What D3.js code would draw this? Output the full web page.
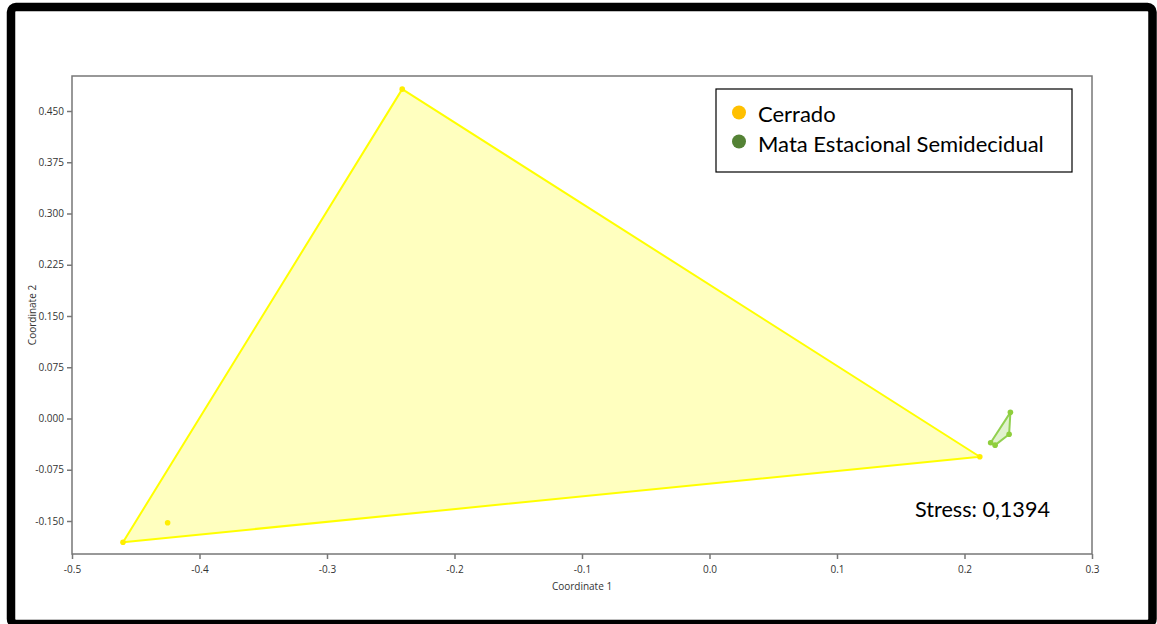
<!DOCTYPE html>
<html><head><meta charset="utf-8">
<script src="https://cdn.jsdelivr.net/npm/d3@7"></script>
<style>body{margin:0;background:#fff;}svg{display:block;}</style>
</head><body>
<svg id="c" width="1157" height="624"></svg>
<script>
const groups = ["Cerrado", "Mata Estacional Semidecidual"];
const cerradoX = [-0.241, -0.460, 0.212, -0.425];
const cerradoY = [0.482, -0.181, -0.056, -0.1525];
const mataX = [0.236, 0.235, 0.224, 0.2205];
const mataY = [0.009, -0.023, -0.039, -0.0355];
const xTicks = [-0.5, -0.4, -0.3, -0.2, -0.1, 0.0, 0.1, 0.2, 0.3];
const yTicks = [-0.150, -0.075, 0.000, 0.075, 0.150, 0.225, 0.300, 0.375, 0.450];
const stressText = "Stress: 0,1394";

const svg = d3.select("#c");
const L = 72, R = 1092, T = 76, B = 554;
const x = d3.scaleLinear().domain([-0.5, 0.3]).range([L, R]);
const y = d3.scaleLinear().domain([-0.15, 0.45]).range([521, 111]);

// outer frame
svg.append("rect").attr("x", 11).attr("y", 7).attr("width", 1141.5).attr("height", 617)
  .attr("rx", 5).attr("fill", "none").attr("stroke", "#000").attr("stroke-width", 8.5);

const series = [
  {name: groups[0], xs: cerradoX, ys: cerradoY, stroke: "#ffff00", fill: "rgba(255,255,0,0.25)", pt: "#ffee00"},
  {name: groups[1], xs: mataX, ys: mataY, stroke: "#92d050", fill: "rgba(146,208,80,0.28)", pt: "#8fce3c"}
];

series.forEach(s => {
  const pts = s.xs.map((v, i) => [x(v), y(s.ys[i])]);
  const hull = d3.polygonHull(pts);
  svg.append("path").attr("d", "M" + hull.map(p => p.join(",")).join("L") + "Z")
    .attr("fill", s.fill).attr("stroke", s.stroke).attr("stroke-width", 2).attr("stroke-linejoin", "round");
  svg.selectAll(null).data(pts).enter().append("circle")
    .attr("cx", d => d[0]).attr("cy", d => d[1]).attr("r", 2.8).attr("fill", s.pt);
});

// plot box
const axisColor = "#777";
svg.append("rect").attr("x", L).attr("y", T).attr("width", R - L).attr("height", B - T)
  .attr("fill", "none").attr("stroke", axisColor).attr("stroke-width", 1.5);

const fontTick = "'Open Sans', 'Noto Sans', sans-serif";
const xAxis = svg.append("g").attr("transform", `translate(0,${B})`)
  .call(d3.axisBottom(x).tickValues(xTicks).tickSize(5).tickSizeOuter(0).tickFormat(d => d === 0 ? "0.0" : d3.format(".1f")(d).replace("−", "-")));
const yAxis = svg.append("g").attr("transform", `translate(${L},0)`)
  .call(d3.axisLeft(y).tickValues(yTicks).tickSize(5).tickSizeOuter(0).tickFormat(d => d3.format(".3f")(d).replace("−", "-")));
[xAxis, yAxis].forEach(a => {
  a.select(".domain").remove();
  a.selectAll(".tick line").attr("stroke", axisColor).attr("stroke-width", 1.5);
  a.selectAll(".tick text").attr("fill", "#333").style("font-family", fontTick).style("font-size", "10px");
});
xAxis.selectAll(".tick text").attr("dy", "1.1em");
yAxis.selectAll(".tick text").attr("x", -8);

svg.append("text").attr("x", (L + R) / 2).attr("y", 590).attr("text-anchor", "middle")
  .style("font-family", fontTick).style("font-size", "10px").attr("fill", "#333").text("Coordinate 1");
svg.append("text").attr("transform", `translate(36,${(T + B) / 2}) rotate(-90)`).attr("text-anchor", "middle")
  .style("font-family", fontTick).style("font-size", "10px").attr("fill", "#333").text("Coordinate 2");

// legend
const lg = svg.append("g");
lg.append("rect").attr("x", 716).attr("y", 89).attr("width", 356).attr("height", 83)
  .attr("fill", "#fff").attr("stroke", "#000").attr("stroke-width", 1.2);
const legColors = ["#ffc000", "#548235"];
groups.forEach((g, i) => {
  lg.append("circle").attr("cx", 739).attr("cy", 112.5 + i * 29).attr("r", 7).attr("fill", legColors[i]);
  lg.append("text").attr("x", 758).attr("y", 122 + i * 30)
    .style("font-family", "Lato, 'Open Sans', sans-serif").style("font-size", "22px").attr("fill", "#000").text(g);
});

svg.append("text").attr("x", 915).attr("y", 517)
  .style("font-family", "Lato, 'Open Sans', sans-serif").style("font-size", "21.6px").attr("fill", "#000").text(stressText);
</script>
</body></html>
